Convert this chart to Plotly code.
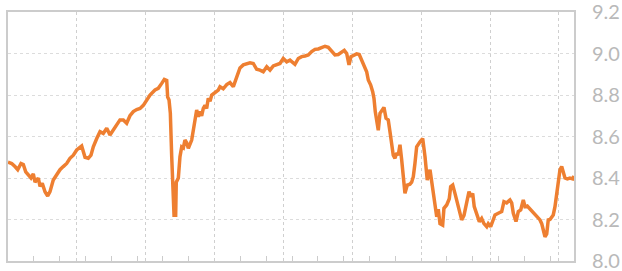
import plotly.graph_objects as go

# x positions (period units) and values
period = [0, 0.43, 0.81, 1.13, 1.51, 1.78, 2.06, 2.36, 2.67, 2.94, 3.14, 3.52, 3.72, 3.98, 4.30, 4.61, 4.88, 5.26, 5.66, 6.04,
          6.42, 6.82, 7.20, 7.59, 7.98, 8.36, 8.56, 8.95, 9.33, 9.64, 9.91, 10.31, 10.69, 11.07, 11.47, 11.85, 12.23, 12.63, 13.01, 13.40,
          13.79, 14.17, 14.56, 14.95, 15.34, 15.72, 16.11, 16.50, 17.08, 17.46, 17.86, 18.16, 18.44, 18.55, 18.71, 18.86, 19.02, 19.17, 19.29, 19.48,
          19.55, 19.79, 19.98, 20.18, 20.37, 20.56, 20.76, 20.95, 21.34, 21.53, 21.73, 21.92, 22.11, 22.31, 22.50, 22.69, 22.89, 23.08, 23.27, 23.47,
          23.67, 24.05, 24.43, 24.63, 25.01, 25.41, 25.79, 26.18, 26.57, 26.95, 27.34, 27.73, 28.12, 28.50, 28.89, 29.28, 29.66, 30.06, 30.44, 30.82,
          31.22, 31.60, 31.98, 32.38, 32.76, 32.96, 33.34, 33.73, 34.12, 34.51, 34.89, 35.28, 35.67, 36.05, 36.45, 36.83, 37.21, 37.61, 37.99, 38.37,
          38.77, 39.07, 39.35, 39.62, 39.85, 40.12, 40.51, 40.81, 41.09, 41.36, 41.67, 41.86, 42.14, 42.37, 42.52, 42.67, 42.84, 43.02, 43.22, 43.53,
          43.68, 43.92, 44.18, 44.38, 44.58, 44.76, 44.96, 45.16, 45.34, 45.54, 45.74, 45.93, 46.12, 46.39, 46.70, 46.90, 47.09, 47.28, 47.48, 47.87,
          48.18, 48.45, 48.71, 49.03, 49.23, 49.41, 49.61, 49.81, 49.99, 50.19, 50.50, 50.65, 50.97, 51.27, 51.43, 51.67, 51.93, 52.20, 52.43, 52.71,
          52.98, 53.29, 53.56, 53.79, 53.99, 54.17, 54.45, 54.76, 55.03, 55.30, 55.62, 55.80, 56.08, 56.38, 56.58, 56.96, 57.36, 57.62, 57.94, 58.32,
          58.52, 58.71, 59.02, 59.29, 59.57, 59.87, 60.07, 60.33, 60.65, 60.96, 61.23, 61.50, 61.81, 62.01, 62.19, 62.39, 62.59, 62.77, 62.97, 63.17,
          63.35, 63.55, 63.75, 63.93, 64.13, 64.33, 64.51, 64.71, 64.98, 65.29, 65.61, 65.76]

values = [8.476, 8.47, 8.455, 8.44, 8.47, 8.465, 8.43, 8.414, 8.40, 8.42, 8.38, 8.40, 8.36, 8.375, 8.334, 8.313, 8.334, 8.39, 8.42, 8.44,
          8.455, 8.47, 8.495, 8.51, 8.535, 8.55, 8.554, 8.50, 8.495, 8.51, 8.55, 8.59, 8.623, 8.615, 8.64, 8.607, 8.63, 8.655, 8.68, 8.68,
          8.664, 8.70, 8.72, 8.73, 8.735, 8.75, 8.776, 8.80, 8.824, 8.832, 8.856, 8.875, 8.87, 8.79, 8.776, 8.713, 8.503, 8.376, 8.22, 8.22,
          8.38, 8.40, 8.503, 8.55, 8.545, 8.583, 8.57, 8.543, 8.583, 8.63, 8.68, 8.728, 8.695, 8.72, 8.70, 8.735, 8.75, 8.735, 8.784, 8.77,
          8.80, 8.81, 8.824, 8.84, 8.83, 8.85, 8.86, 8.84, 8.888, 8.93, 8.945, 8.952, 8.955, 8.952, 8.924, 8.92, 8.912, 8.936, 8.92, 8.94,
          8.945, 8.952, 8.976, 8.96, 8.968, 8.96, 8.948, 8.976, 8.985, 8.988, 8.993, 9.009, 9.02, 9.022, 9.03, 9.035, 9.03, 9.009, 8.993, 8.995,
          9.009, 9.015, 9.0, 8.945, 8.985, 8.99, 8.998, 8.995, 8.968, 8.936, 8.912, 8.872, 8.848, 8.816, 8.784, 8.72, 8.664, 8.63, 8.712, 8.728,
          8.74, 8.688, 8.68, 8.623, 8.575, 8.51, 8.495, 8.52, 8.51, 8.56, 8.487, 8.42, 8.326, 8.366, 8.37, 8.38, 8.406, 8.47, 8.55, 8.575,
          8.59, 8.503, 8.39, 8.44, 8.38, 8.326, 8.246, 8.213, 8.25, 8.18, 8.173, 8.254, 8.27, 8.30, 8.358, 8.366, 8.326, 8.286, 8.238, 8.198,
          8.22, 8.294, 8.334, 8.31, 8.326, 8.262, 8.23, 8.19, 8.205, 8.18, 8.165, 8.18, 8.165, 8.198, 8.222, 8.23, 8.238, 8.286, 8.28, 8.294,
          8.28, 8.23, 8.19, 8.238, 8.246, 8.294, 8.262, 8.265, 8.25, 8.234, 8.222, 8.213, 8.198, 8.18, 8.141, 8.117, 8.13, 8.198, 8.2, 8.21,
          8.222, 8.262, 8.326, 8.358, 8.44, 8.455, 8.43, 8.40, 8.396, 8.40, 8.396, 8.41]

y_ticks = [8.0, 8.2, 8.4, 8.6, 8.8, 9.0, 9.2]
y_tick_labels = ["8.0", "8.2", "8.4", "8.6", "8.8", "9.0", "9.2"]

fig = go.Figure()
fig.add_trace(go.Scatter(x=period, y=values, mode="lines",
                         line=dict(color="#ee7f31", width=3.5), hoverinfo="skip"))

fig.update_layout(
    width=622, height=271,
    margin=dict(l=8, r=48, t=12, b=10, autoexpand=False),
    paper_bgcolor="white", plot_bgcolor="white",
    showlegend=False,
    font=dict(family="Lato, sans-serif"),
)
fig.update_xaxes(
    range=[0, 65.76], tick0=0, dtick=8,
    showticklabels=False, ticks="",
    showgrid=True, gridcolor="#cfcfcf", griddash="dot", gridwidth=1.2,
    zeroline=False,
    showline=True, mirror=True, linecolor="#cccccc", linewidth=2,
    minor=dict(tick0=0, dtick=3, ticks="inside", ticklen=5, tickcolor="#cccccc", tickwidth=1, showgrid=False),
)
fig.update_yaxes(
    range=[8.0, 9.2], side="right", automargin=False,
    tickvals=y_ticks, ticktext=y_tick_labels,
    tickfont=dict(family="Lato, sans-serif", size=20, color="#b9b9b9"),
    ticks="", ticklabelstandoff=12, ticklabeloverflow="allow",
    showgrid=True, gridcolor="#dcdcdc", griddash="dot", gridwidth=1.2,
    zeroline=False,
    showline=True, mirror=True, linecolor="#cccccc", linewidth=2,
)

fig.write_html("out.html", config={"displayModeBar": False},
               post_script="document.body.style.margin='0';document.body.style.overflow='hidden';")
